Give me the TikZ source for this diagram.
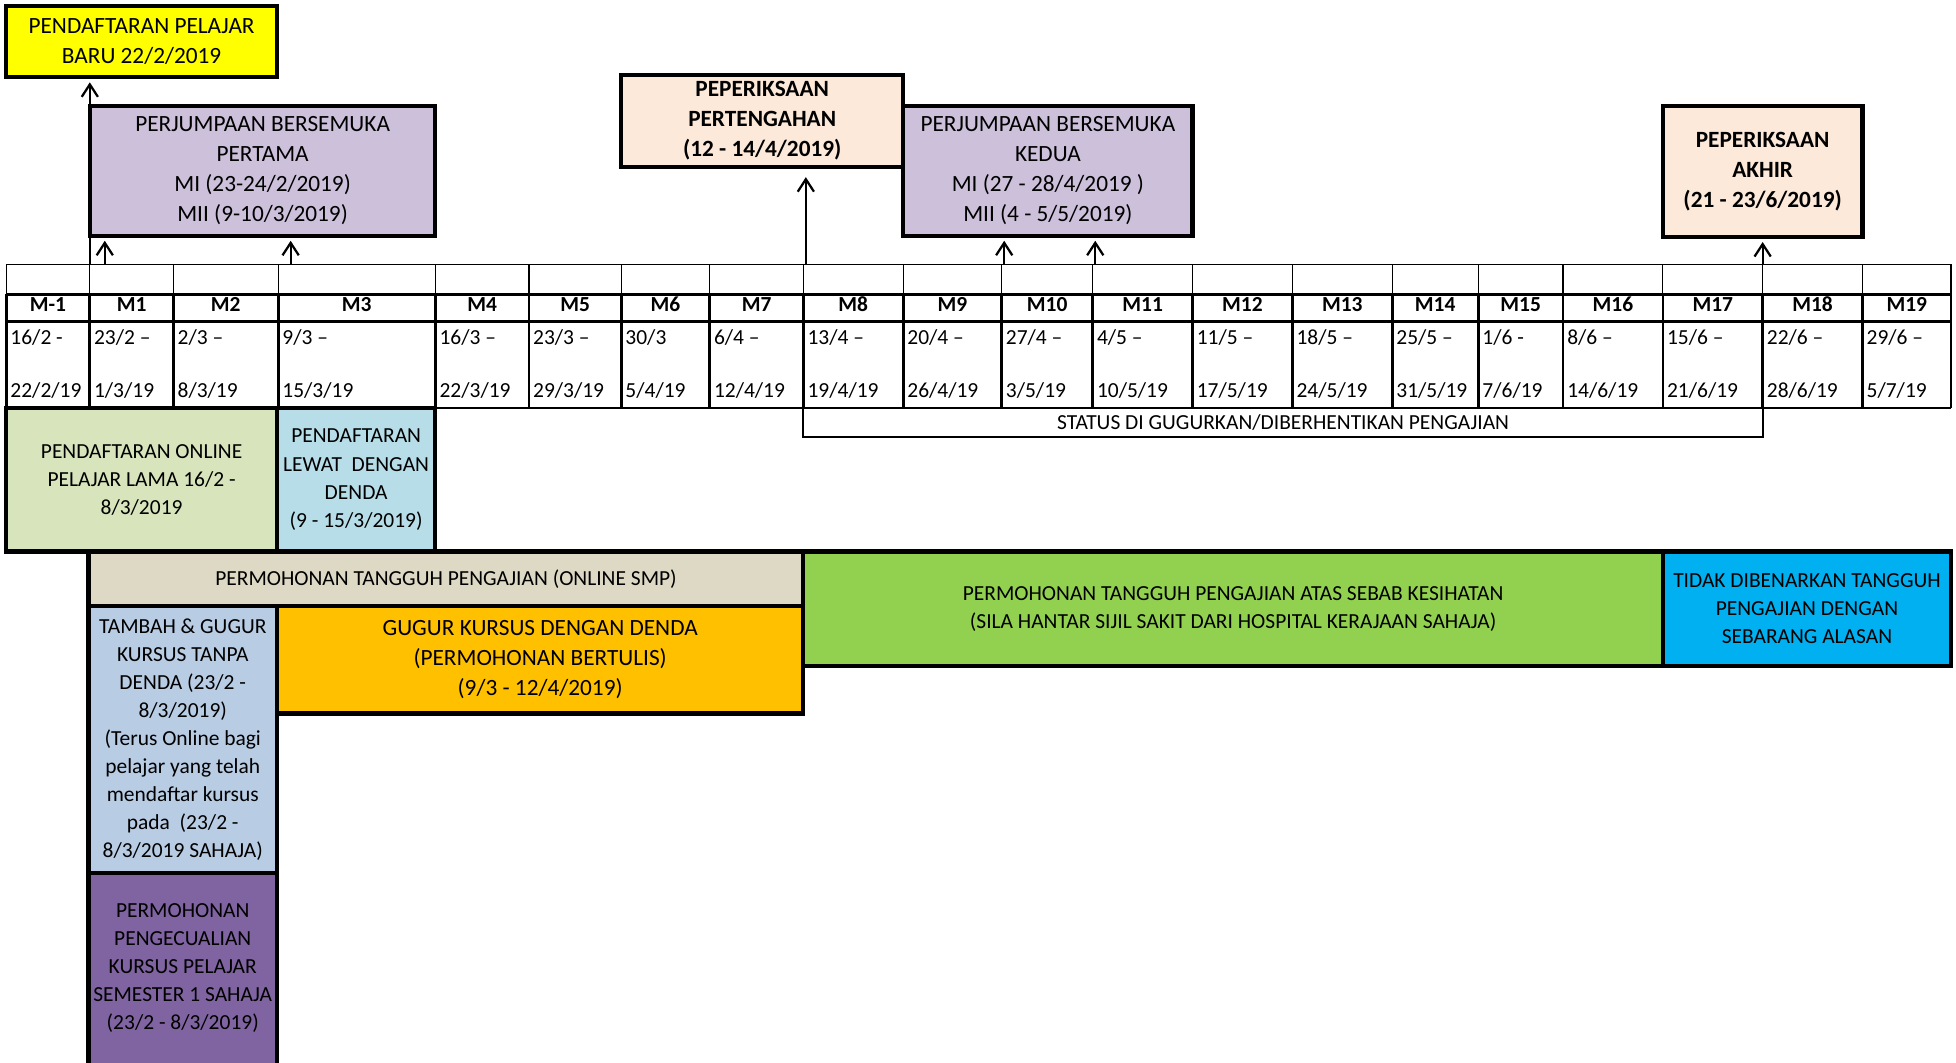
\documentclass[tikz,border=0pt]{standalone}
\usepackage{fontspec}
\setmainfont{Carlito}
\usetikzlibrary{
    arrows.meta
}
\definecolor{newregyellow}{HTML}{FFFF00}
\definecolor{meetpurple}{HTML}{CCC0DA}
\definecolor{exampeach}{HTML}{FDE9D9}
\definecolor{oldgreen}{HTML}{D8E4BC}
\definecolor{lateblue}{HTML}{B7DEE8}
\definecolor{defertan}{HTML}{DDD9C4}
\definecolor{dropsteel}{HTML}{B8CCE4}
\definecolor{fineorange}{HTML}{FFC000}
\definecolor{exemptpurple}{HTML}{8064A2}
\definecolor{healthgreen}{HTML}{92D050}
\definecolor{nodefercyan}{HTML}{00B0F0}
\newcommand{\boxfont}{\fontsize{9.33}{12}\selectfont}
\newcommand{\cellfont}{\fontsize{8.6}{11.25}\selectfont}
\tikzset {
    box/.style = {
        draw, line width = 1.7pt,
        inner sep = 0pt, outer sep = 0pt,
        anchor = north west, align = center,
        font = \boxfont
    },
    cell box/.style = {box, font = \cellfont},
    head/.style = {anchor = base, inner sep = 0pt, font = \cellfont\bfseries},
    date/.style = {anchor = base west, inner sep = 0pt, font = \cellfont},
    thin rule/.style = {line width = 0.5pt},
    thick rule/.style = {line width = 1.1pt},
    arrowed/.style = {
        line width = 0.7pt, shorten >= 2pt,
        -{Straight Barb[length = 5pt, width = 6.5pt, line width = 0.9pt]}
    }
}
\begin{document}
\begin{tikzpicture}[x = 0.5pt, y = -0.5pt]
    \useasboundingbox (0, 0) rectangle (1568, 852);
    % week table
    \foreach \xl/\xr/\wk/\wstart/\wend [count = \i] in {
        5/72/M-1/{16/2 -}/{22/2/19},
        72/139/M1/{23/2 –}/{1/3/19},
        139/223/M2/{2/3 –}/{8/3/19},
        223/349/M3/{9/3 –}/{15/3/19},
        349/424/M4/{16/3 –}/{22/3/19},
        424/498/M5/{23/3 –}/{29/3/19},
        498/569/M6/{30/3}/{5/4/19},
        569/644/M7/{6/4 –}/{12/4/19},
        644/724/M8/{13/4 –}/{19/4/19},
        724/803/M9/{20/4 –}/{26/4/19},
        803/876/M10/{27/4 –}/{3/5/19},
        876/956/M11/{4/5 –}/{10/5/19},
        956/1036/M12/{11/5 –}/{17/5/19},
        1036/1116/M13/{18/5 –}/{24/5/19},
        1116/1185/M14/{25/5 –}/{31/5/19},
        1185/1253/M15/{1/6 -}/{7/6/19},
        1253/1333/M16/{8/6 –}/{14/6/19},
        1333/1413/M17/{15/6 –}/{21/6/19},
        1413/1493/M18/{22/6 –}/{28/6/19},
        1493/1564/M19/{29/6 –}/{5/7/19}
    }{
        \draw[thin rule] (\xl, 212) -- (\xl, 236);
        \draw[thick rule] (\xl, 236) -- (\xl, 327);
        \node[head] (wk\i) at ({(\xl + \xr) / 2}, 250) {\wk};
        \node[date] (from\i) at (\xl + 3, 276) {\wstart};
        \node[date] (to\i) at (\xl + 3, 319) {\wend};
    }
    \draw[thin rule] (1564, 212) -- (1564, 236);
    \draw[thick rule] (1564, 236) -- (1564, 327);
    \draw[thin rule] (5, 212) -- (1564, 212);
    \foreach \y in {236, 258, 327}
        \draw[thick rule] (5, \y) -- (1564, \y);
    %
    \node[box, fill = newregyellow, minimum width = 108.5pt, minimum height = 28.5pt]
        (newreg) at (5, 5) {PENDAFTARAN PELAJAR\\BARU 22/2/2019};
    \node[box, fill = meetpurple, minimum width = 138.5pt, minimum height = 52pt]
        (meet1) at (72, 85) {PERJUMPAAN BERSEMUKA\\PERTAMA\\MI (23-24/2/2019)\\MII (9-10/3/2019)};
    \node[box, fill = exampeach, font = \boxfont\bfseries, minimum width = 113pt, minimum height = 37pt]
        (midexam) at (498, 60) {PEPERIKSAAN\\PERTENGAHAN\\(12 - 14/4/2019)};
    \node[box, fill = meetpurple, minimum width = 116pt, minimum height = 52pt]
        (meet2) at (724, 85) {PERJUMPAAN BERSEMUKA\\KEDUA\\MI (27 - 28/4/2019 )\\MII (4 - 5/5/2019)};
    \node[box, fill = exampeach, font = \boxfont\bfseries, minimum width = 80pt, minimum height = 52.5pt]
        (finalexam) at (1333, 85) {PEPERIKSAAN\\AKHIR\\(21 - 23/6/2019)};
    %
    \node[cell box, line width = 0.8pt, minimum width = 384.5pt, minimum height = 11.5pt]
        (status) at (644, 327) {STATUS DI GUGURKAN/DIBERHENTIKAN PENGAJIAN};
    \node[cell box, fill = oldgreen, minimum width = 108.5pt, minimum height = 57.5pt]
        (oldreg) at (5, 327) {PENDAFTARAN ONLINE\\PELAJAR LAMA 16/2 -\\8/3/2019};
    \node[cell box, fill = lateblue, minimum width = 63.5pt, minimum height = 57.5pt]
        (latereg) at (222, 327) {PENDAFTARAN\\LEWAT\ \ DENGAN\\DENDA\\(9 - 15/3/2019)};
    \node[cell box, fill = defertan, minimum width = 286.5pt, minimum height = 22pt]
        (defer) at (71, 442) {PERMOHONAN TANGGUH PENGAJIAN (ONLINE SMP)};
    \node[cell box, fill = healthgreen, minimum width = 344.5pt, minimum height = 46pt]
        (health) at (644, 442) {PERMOHONAN TANGGUH PENGAJIAN ATAS SEBAB KESIHATAN\\(SILA HANTAR SIJIL SAKIT DARI HOSPITAL KERAJAAN SAHAJA)};
    \node[cell box, fill = nodefercyan, minimum width = 115.5pt, minimum height = 46pt]
        (nodefer) at (1333, 442) {TIDAK DIBENARKAN TANGGUH\\PENGAJIAN DENGAN\\SEBARANG ALASAN};
    \node[cell box, fill = dropsteel, minimum width = 75.5pt, minimum height = 107pt]
        (adddrop) at (71, 486) {TAMBAH \& GUGUR\\KURSUS TANPA\\DENDA (23/2 -\\8/3/2019)\\(Terus Online bagi\\pelajar yang telah\\mendaftar kursus\\pada\ \ (23/2 -\\8/3/2019 SAHAJA)};
    \node[box, fill = fineorange, minimum width = 211pt, minimum height = 43pt]
        (dropfine) at (222, 486) {GUGUR KURSUS DENGAN DENDA\\(PERMOHONAN BERTULIS)\\(9/3 - 12/4/2019)};
    \node[cell box, draw = none, fill = exemptpurple, minimum width = 75.5pt, minimum height = 76pt]
        (exempt) at (71, 700) {PERMOHONAN\\PENGECUALIAN\\KURSUS PELAJAR\\SEMESTER 1 SAHAJA\\(23/2 - 8/3/2019)};
    \draw[line width = 1.7pt] (exempt.south west) |- (exempt.north east) -- (exempt.south east);
    % arrows
    \coordinate (a1) at (84, 212);
    \coordinate (a2) at (233, 212);
    \coordinate (a3) at (646, 212);
    \coordinate (a4) at (805, 212);
    \coordinate (a5) at (878, 212);
    \coordinate (a6) at (1413, 212);
    \draw[line width = 0.8pt] (meet1.south west) -- (meet1.south west |- a1);
    \draw[arrowed] (meet1.north west) -- (meet1.north west |- newreg.south);
    \draw[arrowed] (a1) -- (a1 |- meet1.south);
    \draw[arrowed] (a2) -- (a2 |- meet1.south);
    \draw[arrowed, shorten >= 4pt] (a3) -- (a3 |- midexam.south);
    \draw[arrowed] (a4) -- (a4 |- meet2.south);
    \draw[arrowed] (a5) -- (a5 |- meet2.south);
    \draw[arrowed] (a6) -- (a6 |- finalexam.south);
\end{tikzpicture}
\end{document}
